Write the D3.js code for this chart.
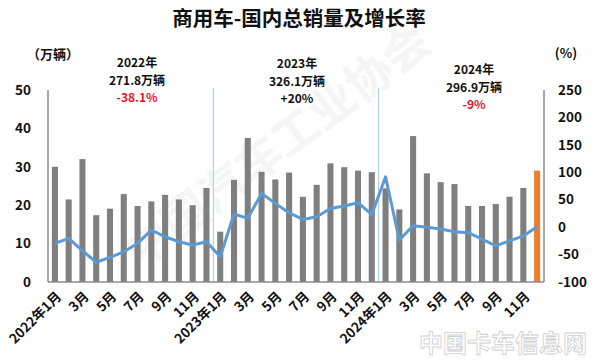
<!DOCTYPE html>
<html>
<head>
<meta charset="utf-8">
<script src="https://cdn.jsdelivr.net/npm/d3@7"></script>
<style>
  body { margin: 0; background: #fff; }
  svg text { font-family: "Noto Sans CJK SC", "Noto Sans", sans-serif; font-weight: bold; }
</style>
</head>
<body>
<svg id="chart"></svg>
<script>
  var months = [
    "2022年1月", "2月", "3月", "4月", "5月", "6月", "7月", "8月", "9月", "10月", "11月", "12月",
    "2023年1月", "2月", "3月", "4月", "5月", "6月", "7月", "8月", "9月", "10月", "11月", "12月",
    "2024年1月", "2月", "3月", "4月", "5月", "6月", "7月", "8月", "9月", "10月", "11月", "12月"
  ];
  // sales, 万辆
  var sales = [
    30.0, 21.5, 32.0, 17.4, 19.1, 22.9, 19.8, 21.0, 22.7, 21.5, 20.0, 24.5,
    13.1, 26.6, 37.5, 28.7, 26.7, 28.5, 22.2, 25.3, 30.9, 29.9, 29.0, 28.6,
    24.4, 18.9, 38.0, 28.3, 26.0, 25.5, 19.8, 19.8, 20.3, 22.2, 24.5, 29.0
  ];
  // growth, %
  var growth = [
    -29.6, -20.5, -43, -64, -55, -45, -29.7, -5.3, -17.5, -26.6, -32.6, -26.6,
    -54, 23.9, 16, 61.5, 43.3, 26.2, 14, 19, 34, 38.5, 44.5, 23,
    91.7, -23.5, 2.6, -0.4, -3.5, -8.4, -10, -22, -34, -25, -16, 0.8
  ];
  var leftTicks = [0, 10, 20, 30, 40, 50];
  var rightTicks = [-100, -50, 0, 50, 100, 150, 200, 250];
  var yearNotes = [
    { year: "2022年", total: "271.8万辆", rate: "-38.1%", red: true },
    { year: "2023年", total: "326.1万辆", rate: "+20%", red: false },
    { year: "2024年", total: "296.9万辆", rate: "-9%", red: true }
  ];

  (function () {
    var W = 600, H = 361;
    var plotL = 48, plotR = 544, plotT = 90, plotB = 282;

    var svg = d3.select("#chart").attr("width", W).attr("height", H);

    // faint watermarks
    svg.append("text")
      .attr("transform", "translate(140,270) rotate(-37)")
      .attr("font-size", 46)
      .attr("fill", "#f5f5f5")
      .text("中国汽车工业协会");
    svg.append("text")
      .attr("x", 503).attr("y", 352)
      .attr("text-anchor", "middle")
      .attr("font-size", 24)
      .attr("fill", "none")
      .attr("stroke", "#cfcfcf")
      .attr("stroke-width", 0.8)
      .text("中国卡车信息网");

    var x = d3.scaleBand().domain(d3.range(months.length))
      .range([plotL, plotR]).paddingInner(0.56).paddingOuter(0.28);
    var y = d3.scaleLinear().domain([0, 50]).range([plotB, plotT]);
    var y2 = d3.scaleLinear().domain([-100, 250]).range([plotB, plotT]);

    // title
    svg.append("text")
      .attr("x", 299).attr("y", 26)
      .attr("text-anchor", "middle")
      .attr("font-size", 20.5)
      .attr("fill", "#111")
      .text("商用车-国内总销量及增长率");

    // year separators
    [12, 24].forEach(function (i) {
      var sx = x(i) - x.step() * x.paddingInner() / 2;
      svg.append("line")
        .attr("x1", sx).attr("x2", sx)
        .attr("y1", 88).attr("y2", plotB)
        .attr("stroke", "#a8c8e6").attr("stroke-width", 1);
    });

    // bars
    svg.selectAll("rect.bar").data(sales).enter()
      .append("rect")
      .attr("class", "bar")
      .attr("x", function (d, i) { return x(i); })
      .attr("y", function (d) { return y(d); })
      .attr("width", x.bandwidth())
      .attr("height", function (d) { return plotB - y(d); })
      .attr("fill", function (d, i) { return i === sales.length - 1 ? "#ed7d31" : "#7f7f7f"; });

    // axes lines
    var axisColor = "#8c8c8c";
    svg.append("line").attr("x1", plotL).attr("x2", plotL).attr("y1", plotT).attr("y2", plotB)
      .attr("stroke", axisColor).attr("stroke-width", 1.5);
    svg.append("line").attr("x1", plotR).attr("x2", plotR).attr("y1", plotT).attr("y2", plotB)
      .attr("stroke", axisColor).attr("stroke-width", 1.5);
    svg.append("line").attr("x1", plotL).attr("x2", plotR).attr("y1", plotB).attr("y2", plotB)
      .attr("stroke", axisColor).attr("stroke-width", 1.5);

    // growth line
    var line = d3.line()
      .x(function (d, i) { return x(i) + x.bandwidth() / 2; })
      .y(function (d) { return y2(d); });
    svg.append("path")
      .datum(growth)
      .attr("d", line)
      .attr("fill", "none")
      .attr("stroke", "#5b9bd5")
      .attr("stroke-width", 3)
      .attr("stroke-linejoin", "round");

    // left tick labels
    svg.selectAll("text.yl").data(leftTicks).enter()
      .append("text")
      .attr("x", 31).attr("y", function (d) { return y(d); })
      .attr("dy", "0.35em")
      .attr("text-anchor", "end")
      .attr("font-size", 13.5)
      .attr("fill", "#111")
      .text(function (d) { return d; });

    // right tick labels
    svg.selectAll("text.yr").data(rightTicks).enter()
      .append("text")
      .attr("x", 558).attr("y", function (d) { return y2(d); })
      .attr("dy", "0.35em")
      .attr("text-anchor", "start")
      .attr("font-size", 13.5)
      .attr("fill", "#111")
      .text(function (d) { return d; });

    svg.append("text").attr("x", 53).attr("y", 59).attr("text-anchor", "middle")
      .attr("font-size", 13).attr("fill", "#111").text("（万辆）");
    svg.append("text").attr("x", 566).attr("y", 58).attr("text-anchor", "middle")
      .attr("font-size", 13).attr("fill", "#111").text("(%)");

    // x labels every other month
    svg.selectAll("text.xl").data(months).enter()
      .filter(function (d, i) { return i % 2 === 0; })
      .append("text")
      .attr("transform", function (d, i) {
        var cx = x(i * 2) + x.bandwidth() / 2 + 4;
        return "translate(" + cx + ",294) rotate(-45)";
      })
      .attr("text-anchor", "end")
      .attr("dy", "0.35em")
      .attr("font-size", 13.5)
      .attr("fill", "#111")
      .text(function (d) { return d; });

    // yearly notes
    var noteX = [137, 297, 474];
    var noteY = [63, 64, 70];
    yearNotes.forEach(function (n, k) {
      var g = svg.append("g").attr("transform", "translate(" + noteX[k] + "," + noteY[k] + ")");
      g.append("text").attr("text-anchor", "middle").attr("dy", "0.35em")
        .attr("font-size", 12).attr("fill", "#111").text(n.year);
      g.append("text").attr("text-anchor", "middle").attr("y", 17.6).attr("dy", "0.35em")
        .attr("font-size", 12).attr("fill", "#111").text(n.total);
      g.append("text").attr("text-anchor", "middle").attr("y", 35.2).attr("dy", "0.35em")
        .attr("font-size", 12).attr("fill", n.red ? "#e8132a" : "#111").text(n.rate);
    });
  })();
</script>
</body>
</html>
